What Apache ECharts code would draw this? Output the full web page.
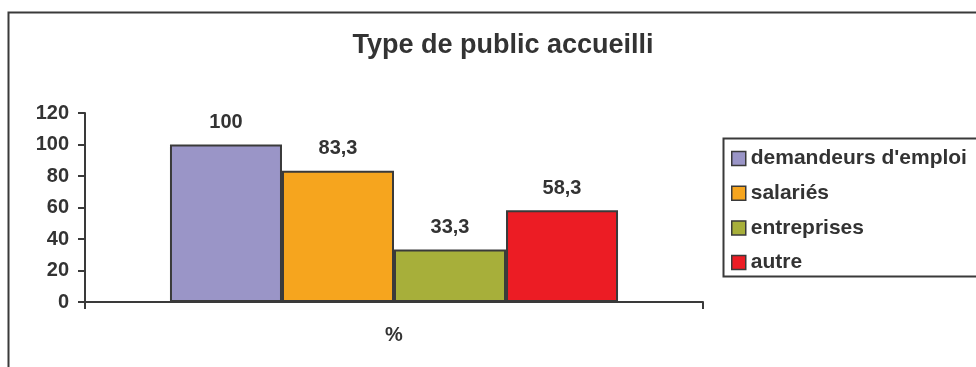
<!DOCTYPE html>
<html>
<head>
<meta charset="utf-8">
<script src="https://cdn.jsdelivr.net/npm/echarts@6/dist/echarts.min.js"></script>
<style>
  html, body { margin: 0; padding: 0; background: #fff; }
  #chart { width: 976px; height: 367px; }
</style>
</head>
<body>
<div id="chart"></div>
<script>
// Chart data
const categories = ['%'];
const seriesNames = ["demandeurs d'emploi", 'salariés', 'entreprises', 'autre'];
const seriesValues = [100, 83.3, 33.3, 58.3];
const seriesColors = ['#9a95c7', '#f6a51e', '#a7af3a', '#ec1c24'];
const yTicks = { min: 0, max: 120, interval: 20 };

const ink = '#333333';
const font = 'Liberation Sans, Arial, sans-serif';

const chart = echarts.init(document.getElementById('chart'), null, { renderer: 'canvas' });

const series = seriesNames.map((name, i) => ({
  name: name,
  type: 'bar',
  data: [seriesValues[i]],
  barGap: '0%',
  barCategoryGap: '27.5%',
  itemStyle: { color: seriesColors[i], borderColor: '#3a3a3a', borderWidth: 2 },
  label: {
    show: true,
    position: 'top',
    distance: 12,
    color: ink,
    fontFamily: font,
    fontWeight: 'bold',
    fontSize: 20,
    formatter: p => String(p.value).replace('.', ',')
  },
  emphasis: { disabled: true }
}));

chart.setOption({
  animation: false,
  title: {
    text: 'Type de public accueilli',
    left: 498,
    textAlign: 'center',
    top: 27,
    textStyle: { color: ink, fontFamily: font, fontWeight: 'bold', fontSize: 27 }
  },
  graphic: [
    {
      type: 'rect',
      shape: { x: 8.5, y: 12.5, width: 1000, height: 400 },
      style: { fill: 'none', stroke: '#3a3a3a', lineWidth: 2 },
      silent: true
    },
    {
      type: 'rect',
      shape: { x: 723.5, y: 138.5, width: 300, height: 138 },
      style: { fill: 'none', stroke: '#3a3a3a', lineWidth: 2 },
      silent: true
    }
  ],
  legend: {
    orient: 'vertical',
    left: 731,
    top: 148,
    padding: 0,
    itemWidth: 14,
    itemHeight: 14,
    itemGap: 13.7,
    icon: 'rect',
    selectedMode: false,
    itemStyle: { borderColor: '#3a3a3a', borderWidth: 1.5 },
    textStyle: { color: ink, fontFamily: font, fontWeight: 'bold', fontSize: 21, lineHeight: 21 },
    data: seriesNames
  },
  grid: { left: 85, right: 273, top: 113, bottom: 65, containLabel: false },
  xAxis: {
    type: 'category',
    data: categories,
    axisLine: { lineStyle: { color: '#3a3a3a', width: 2 } },
    axisTick: { show: true, inside: false, length: 7, lineStyle: { color: '#3a3a3a', width: 2 } },
    axisLabel: { color: ink, fontFamily: font, fontWeight: 'bold', fontSize: 20, margin: 23 }
  },
  yAxis: {
    type: 'value',
    min: yTicks.min,
    max: yTicks.max,
    interval: yTicks.interval,
    splitLine: { show: false },
    axisLine: { show: true, lineStyle: { color: '#3a3a3a', width: 2 } },
    axisTick: { show: true, inside: false, length: 7, lineStyle: { color: '#3a3a3a', width: 2 } },
    axisLabel: { color: ink, fontFamily: font, fontWeight: 'bold', fontSize: 20, margin: 16 }
  },
  series: series
});
</script>
</body>
</html>
